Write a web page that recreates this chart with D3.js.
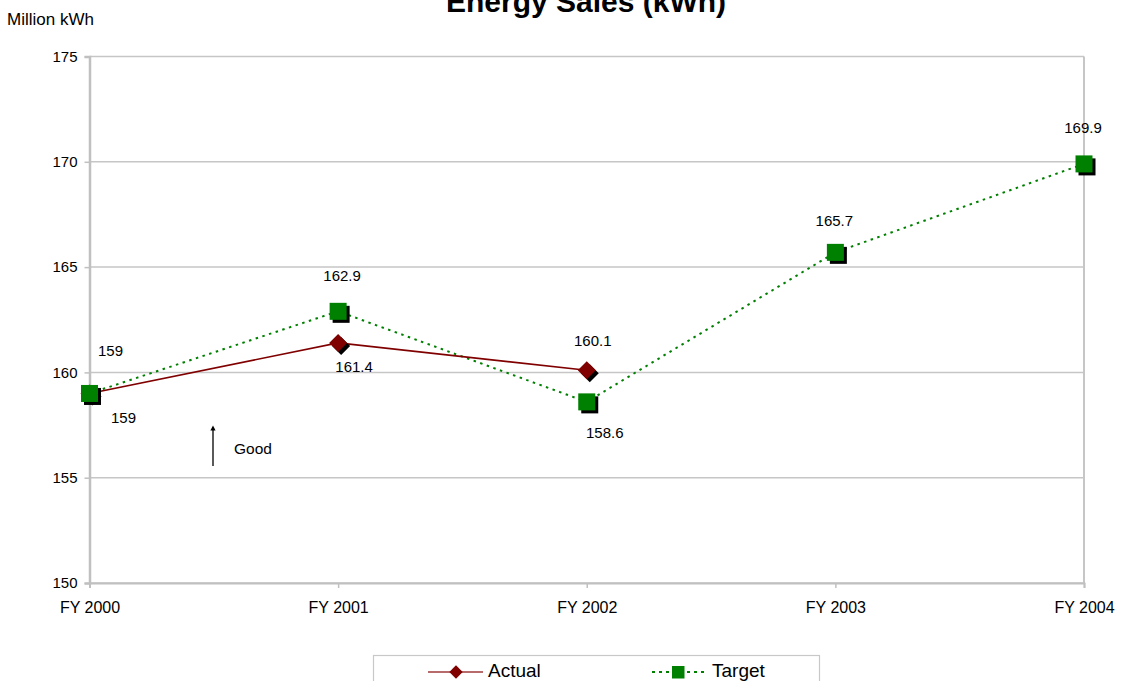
<!DOCTYPE html>
<html>
<head>
<meta charset="utf-8">
<script src="https://cdn.jsdelivr.net/npm/d3@7"></script>
<style>
  html, body { margin: 0; padding: 0; background: #fff; }
  svg { display: block; font-family: "Liberation Sans", Arial, sans-serif; }
</style>
</head>
<body>
<svg id="chart" width="1121" height="681"></svg>
<script>
// Fiscal years on the horizontal axis
const categories = ["FY 2000", "FY 2001", "FY 2002", "FY 2003", "FY 2004"];
// Energy sales, million kWh
const actualValues = [159, 161.4, 160.1];
const targetValues = [159, 162.9, 158.6, 165.7, 169.9];
const yTicks = [150, 155, 160, 165, 170, 175];

// Label offsets (dx, dy) relative to each point
const actualLabelOffsets = [[34, 24], [16, 24], [6, -30]];
const targetLabelOffsets = [[21, -43], [4, -36], [18, 31], [-1, -32], [-1, -36]];

const svg = d3.select("#chart");
const plotLeft = 89.5, plotRight = 1084, plotTop = 56.5, plotBottom = 583;
const FONT = "Liberation Sans, Arial, sans-serif";

const x = d3.scalePoint().domain(categories).range([plotLeft, plotRight]).padding(0);
const y = d3.scaleLinear().domain([150, 175]).range([plotBottom, plotTop]);

// Title
svg.append("text")
  .attr("x", 586).attr("y", 12)
  .attr("text-anchor", "middle")
  .attr("font-size", 30).attr("font-weight", "bold")
  .text("Energy Sales (kWh)");

svg.append("text")
  .attr("x", 7).attr("y", 25)
  .attr("font-size", 17)
  .text("Million kWh");

// Horizontal gridlines
svg.append("g").selectAll("line").data(yTicks).join("line")
  .attr("x1", plotLeft).attr("x2", plotRight)
  .attr("y1", d => y(d)).attr("y2", d => y(d))
  .attr("stroke", "#c6c6c6").attr("stroke-width", 1.5);

// Right border of plot area
svg.append("line")
  .attr("x1", plotRight).attr("x2", plotRight).attr("y1", plotTop).attr("y2", plotBottom)
  .attr("stroke", "#c6c6c6").attr("stroke-width", 2);

// Y axis
const yAxis = d3.axisLeft(y).tickValues(yTicks).tickSize(5).tickPadding(7);
const gy = svg.append("g").attr("transform", `translate(${plotLeft},0)`).call(yAxis);
gy.select(".domain").attr("stroke", "#c0c0c0").attr("stroke-width", 2.5);
gy.selectAll(".tick line").attr("stroke", "#c0c0c0").attr("stroke-width", 1.5);
gy.selectAll(".tick text").attr("font-size", 15).attr("fill", "#000")
  .attr("font-family", FONT);

// X axis
const xAxis = d3.axisBottom(x).tickSize(5).tickPadding(14);
const gx = svg.append("g").attr("transform", `translate(0,${plotBottom})`).call(xAxis);
gx.select(".domain").attr("stroke", "#c0c0c0").attr("stroke-width", 2);
gx.selectAll(".tick line").attr("stroke", "#c0c0c0").attr("stroke-width", 1.5);
gx.selectAll(".tick text").attr("font-size", 16).attr("fill", "#000")
  .attr("font-family", FONT);

const actual = actualValues.map((v, i) => ({ c: categories[i], v, off: actualLabelOffsets[i] }));
const target = targetValues.map((v, i) => ({ c: categories[i], v, off: targetLabelOffsets[i] }));

const line = d3.line().x(d => x(d.c)).y(d => y(d.v));

// Series lines
svg.append("path").datum(target)
  .attr("d", line).attr("fill", "none")
  .attr("stroke", "#008000").attr("stroke-width", 2)
  .attr("stroke-dasharray", "2.5,4.5");

svg.append("path").datum(actual)
  .attr("d", line).attr("fill", "none")
  .attr("stroke", "#800000").attr("stroke-width", 1.6);

// Markers with drop shadows
const diamond = s => `M0,${-s} L${s},0 L0,${s} L${-s},0 Z`;
const SQ = 17;

const ag = svg.append("g");
ag.selectAll("path.shadow").data(actual).join("path")
  .attr("class", "shadow")
  .attr("d", diamond(9))
  .attr("transform", d => `translate(${x(d.c) + 3},${y(d.v) + 3})`)
  .attr("fill", "#000");
ag.selectAll("path.mark").data(actual).join("path")
  .attr("class", "mark")
  .attr("d", diamond(9))
  .attr("transform", d => `translate(${x(d.c)},${y(d.v)})`)
  .attr("fill", "#800000");

const tg = svg.append("g");
tg.selectAll("rect.shadow").data(target).join("rect")
  .attr("class", "shadow")
  .attr("x", d => x(d.c) - SQ / 2 + 3).attr("y", d => y(d.v) - SQ / 2 + 3)
  .attr("width", SQ).attr("height", SQ).attr("fill", "#000");
tg.selectAll("rect.mark").data(target).join("rect")
  .attr("class", "mark")
  .attr("x", d => x(d.c) - SQ / 2).attr("y", d => y(d.v) - SQ / 2)
  .attr("width", SQ).attr("height", SQ).attr("fill", "#008000");

// Data labels
const labels = svg.append("g").attr("font-size", 15).attr("text-anchor", "middle");
labels.selectAll("text.a").data(actual).join("text")
  .attr("class", "a")
  .attr("x", d => x(d.c) + d.off[0]).attr("y", d => y(d.v) + d.off[1])
  .attr("dy", "0.36em").text(d => d.v);
labels.selectAll("text.t").data(target).join("text")
  .attr("class", "t")
  .attr("x", d => x(d.c) + d.off[0]).attr("y", d => y(d.v) + d.off[1])
  .attr("dy", "0.36em").text(d => d.v);

// "Good" direction arrow
svg.append("defs").append("marker")
  .attr("id", "arrow").attr("viewBox", "0 0 10 10")
  .attr("refX", 5).attr("refY", 5)
  .attr("markerWidth", 4).attr("markerHeight", 6)
  .attr("orient", "auto")
  .append("path").attr("d", "M0,0 L10,5 L0,10 Z").attr("fill", "#000");

svg.append("line")
  .attr("x1", 213).attr("x2", 213).attr("y1", 466).attr("y2", 428)
  .attr("stroke", "#000").attr("stroke-width", 1.3)
  .attr("marker-end", "url(#arrow)");
svg.append("text")
  .attr("x", 234).attr("y", 448).attr("dy", "0.36em")
  .attr("font-size", 15.5).text("Good");

// Legend
const lg = svg.append("g");
lg.append("rect")
  .attr("x", 373.5).attr("y", 655.5).attr("width", 446).attr("height", 40)
  .attr("fill", "#fff").attr("stroke", "#c8c8c8").attr("stroke-width", 1.2);

const ly = 672;
lg.append("line").attr("x1", 428).attr("x2", 483).attr("y1", ly).attr("y2", ly)
  .attr("stroke", "#a03a3a").attr("stroke-width", 1.6);
lg.append("path").attr("d", diamond(6.7))
  .attr("transform", `translate(456,${ly})`).attr("fill", "#800000");
lg.append("text").attr("x", 488).attr("y", 677)
  .attr("font-size", 19).text("Actual");

lg.append("line").attr("x1", 652).attr("x2", 707).attr("y1", ly).attr("y2", ly)
  .attr("stroke", "#008000").attr("stroke-width", 2).attr("stroke-dasharray", "3,4");
lg.append("rect").attr("x", 672).attr("y", ly - 6).attr("width", 12.5).attr("height", 12.5)
  .attr("fill", "#008000");
lg.append("text").attr("x", 712).attr("y", 677)
  .attr("font-size", 19).text("Target");
</script>
</body>
</html>
